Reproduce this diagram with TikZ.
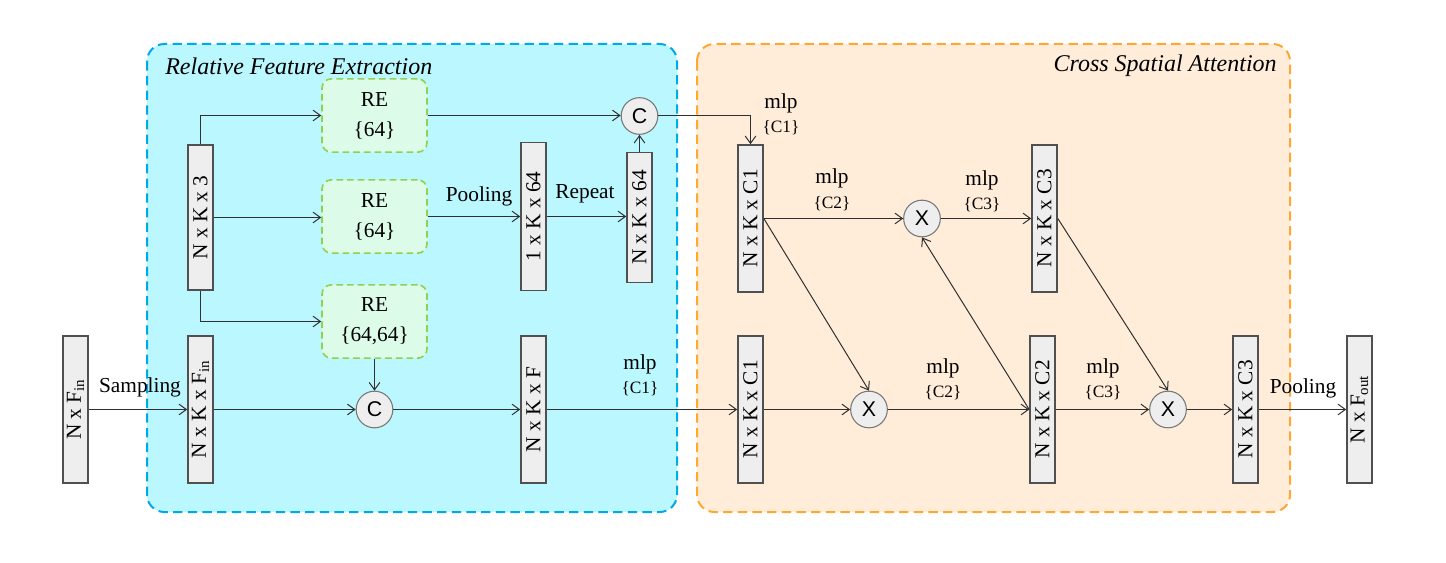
\documentclass[tikz,border=0pt]{standalone}
\usepackage{fontspec}
\setmainfont{Liberation Serif}
\newfontfamily\sansf{Liberation Sans}
\usetikzlibrary{arrows.meta}
\definecolor{bluefill}{HTML}{BBF7FE}
\definecolor{blueline}{HTML}{00A8EC}
\definecolor{orfill}{HTML}{FFEDD9}
\definecolor{orline}{HTML}{FFA733}
\definecolor{grfill}{HTML}{DCFCE9}
\definecolor{grline}{HTML}{92D050}
\definecolor{bxfill}{HTML}{EEEEEE}
\definecolor{bxline}{HTML}{505050}
\definecolor{cline}{HTML}{777777}
\definecolor{arrline}{HTML}{303030}
\tikzset{
  container/.style={line width=1.5pt, dash pattern=on 7pt off 4pt, rounded corners=13pt},
  vbox/.style={draw=bxline, fill=bxfill, line width=1.2pt, minimum width=18.75pt, inner sep=0pt,
    font=\fontsize{16}{19}\selectfont},
  rebox/.style={draw=grline, fill=grfill, line width=1.2pt, dash pattern=on 5pt off 3pt,
    rounded corners=7pt, minimum width=78.75pt, minimum height=55pt, inner sep=0pt, align=center,
    font=\fontsize{16}{22.5}\selectfont},
  opcirc/.style={circle, draw=cline, fill=bxfill, line width=0.8pt, minimum size=27.5pt, inner sep=0pt,
    font=\sansf\fontsize{16}{19}\selectfont},
  arr/.style={draw=arrline, line width=0.75pt, -{Straight Barb[length=5.5pt,width=8pt]}},
  lbl/.style={font=\fontsize{16}{19}\selectfont, inner sep=0pt},
  slbl/.style={font=\fontsize{13}{15}\selectfont, inner sep=0pt},
  ttl/.style={font=\itshape\fontsize{18}{21}\selectfont, inner sep=0pt}
}
\begin{document}
\begin{tikzpicture}[x=0.75pt, y=-0.75pt]
\useasboundingbox (0,0) rectangle (1446,563);
% containers
\draw[container, draw=blueline, fill=bluefill] (147,44) rectangle (677,512);
\draw[container, draw=orline, fill=orfill] (697,44) rectangle (1290,512);
\node[ttl, anchor=west] (t1) at (165,66) {Relative Feature Extraction};
\node[ttl, anchor=east] (t2) at (1277,66) {Cross Spatial Attention};
% boxes
\node[vbox, minimum height=110.25pt] (bin) at (75.5,409.5) {\rotatebox{90}{N x F\textsubscript{in}}};
\node[vbox, minimum height=110.25pt] (bkin) at (200.5,409.5) {\rotatebox{90}{N x K x F\textsubscript{in}}};
\node[vbox, minimum height=108.75pt] (b3) at (200.5,217.5) {\rotatebox{90}{N x K x 3}};
\node[vbox, minimum height=111pt] (b1k) at (533.5,216.5) {\rotatebox{90}{1 x K x 64}};
\node[vbox, minimum height=97.5pt] (bnk) at (639.5,217.5) {\rotatebox{90}{N x K x 64}};
\node[vbox, minimum height=110.25pt] (bkf) at (533.5,409.5) {\rotatebox{90}{N x K x F}};
\node[vbox, minimum height=110.25pt] (c1t) at (750.5,218.5) {\rotatebox{90}{N x K x C1}};
\node[vbox, minimum height=110.25pt] (c1b) at (750.5,409.5) {\rotatebox{90}{N x K x C1}};
\node[vbox, minimum height=110.25pt] (c3t) at (1044.5,218.5) {\rotatebox{90}{N x K x C3}};
\node[vbox, minimum height=110.25pt] (c2) at (1042.5,409.5) {\rotatebox{90}{N x K x C2}};
\node[vbox, minimum height=110.25pt] (c3b) at (1245.5,409.5) {\rotatebox{90}{N x K x C3}};
\node[vbox, minimum height=110.25pt] (bout) at (1359.5,409.5) {\rotatebox{90}{N x F\textsubscript{out}}};
% RE boxes
\node[rebox] (re1) at (374.5,115.5) {RE\\\{64\}};
\node[rebox] (re2) at (374.5,216.5) {RE\\\{64\}};
\node[rebox] (re3) at (374.5,321.5) {RE\\\{64,64\}};
% circles
\node[opcirc] (ct) at (639.5,116) {C};
\node[opcirc] (cb) at (374.5,409.5) {C};
\node[opcirc] (xt) at (922,218.5) {X};
\node[opcirc] (xbl) at (869,409.5) {X};
\node[opcirc] (xbr) at (1168,409.5) {X};
% connectors
\draw[arr] (bin.east) -- (bkin.west);
\draw[arr] (b3.north) |- (re1.west);
\draw[arr] (b3.east) -- (b3.east -| re2.west);
\draw[arr] (b3.south) |- (re3.west);
\draw[arr] (re1.east) -- (re1.east -| ct.west);
\draw[arr] (re2.east) -- (b1k.west);
\draw[arr] (b1k.east) -- (b1k.east -| bnk.west);
\draw[arr] (bnk.north) -- (ct.south);
\draw[arr] (ct.east) -| (c1t.north);
\draw[arr] (bkin.east) -- (cb.west);
\draw[arr] (re3.south) -- (cb.north);
\draw[arr] (cb.east) -- (bkf.west);
\draw[arr] (bkf.east) -- (c1b.west);
\draw[arr] (c1b.east) -- (xbl.west);
\draw[arr] (c1t.east) -- (xt.west);
\draw[arr] (c1t.east) -- (xbl.north);
\draw[arr] (xt.east) -- (c3t.west);
\draw[arr] (xbl.east) -- (c2.west);
\draw[arr] (c2.west) -- (xt.south);
\draw[arr] (c3t.east) -- (xbr.north);
\draw[arr] (c2.east) -- (xbr.west);
\draw[arr] (xbr.east) -- (c3b.west);
\draw[arr] (c3b.east) -- (bout.west);
% labels
\node[lbl] (l1) at (140,387) {Sampling};
\node[lbl] (l2) at (479,196) {Pooling};
\node[lbl] (l3) at (585,194) {Repeat};
\node[lbl] (l4) at (781,103) {mlp};
\node[slbl] (s4) at (781,128) {\{C1\}};
\node[lbl] (l5) at (640,364) {mlp};
\node[slbl] (s5) at (640,389) {\{C1\}};
\node[lbl] (l6) at (832,178) {mlp};
\node[slbl] (s6) at (832,204) {\{C2\}};
\node[lbl] (l7) at (982,180) {mlp};
\node[slbl] (s7) at (982,205) {\{C3\}};
\node[lbl] (l8) at (943,368) {mlp};
\node[slbl] (s8) at (943,393) {\{C2\}};
\node[lbl] (l9) at (1103,368) {mlp};
\node[slbl] (s9) at (1103,393) {\{C3\}};
\node[lbl] (l10) at (1303,388) {Pooling};
\end{tikzpicture}
\end{document}
